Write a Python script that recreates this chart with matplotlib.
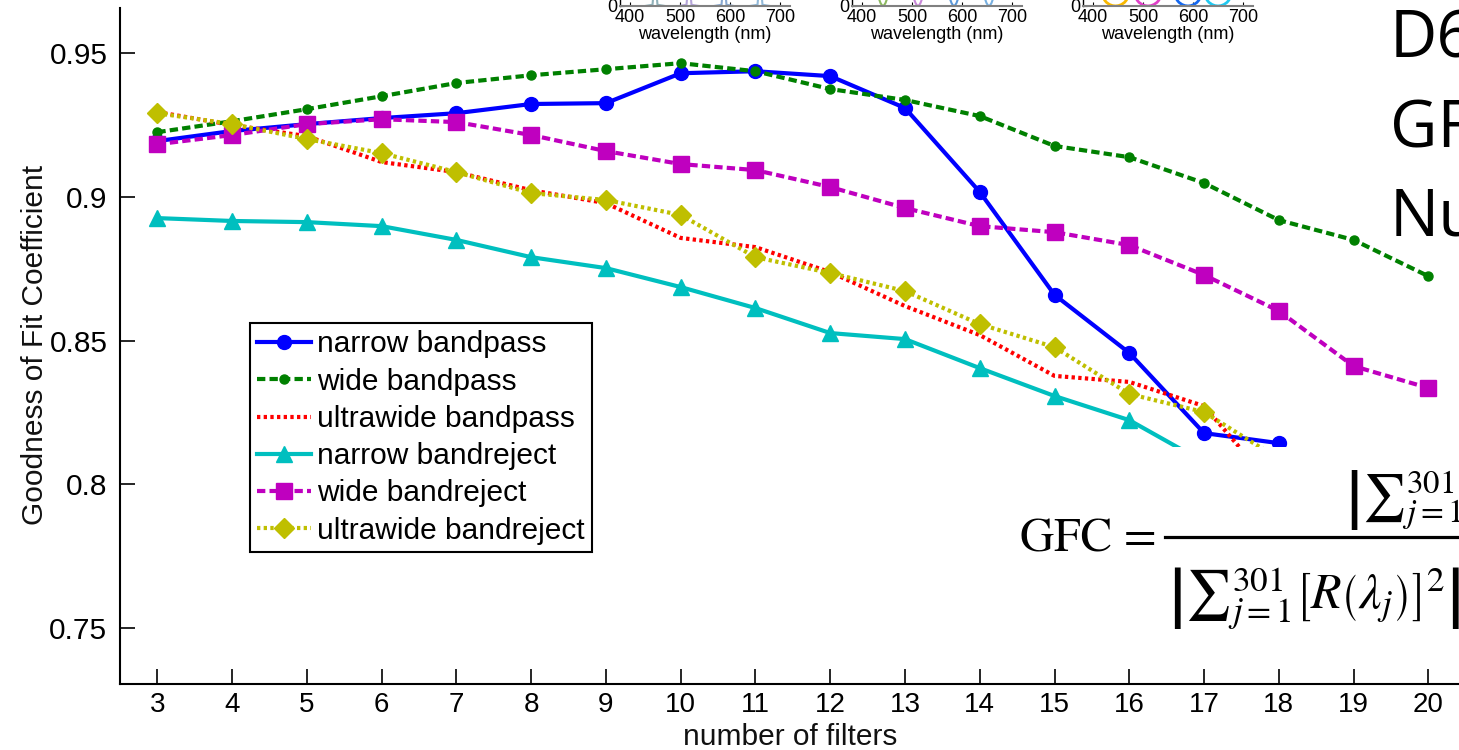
import matplotlib
matplotlib.use('Agg')
import matplotlib.pyplot as plt
from matplotlib.lines import Line2D
from matplotlib.patches import Rectangle

plt.rcParams['font.family'] = ['Liberation Sans', 'DejaVu Sans']
plt.rcParams['mathtext.fontset'] = 'stix'

W, H = 1459, 750

# ---------------- data ----------------
n_filters = [3, 4, 5, 6, 7, 8, 9, 10, 11, 12, 13, 14, 15, 16, 17, 18, 19, 20]

narrow_bandpass = [0.9194, 0.9229, 0.9253, 0.9274, 0.9291, 0.9323, 0.9326, 0.9430,
                   0.9437, 0.9420, 0.9309, 0.9017, 0.8659, 0.8457, 0.8178, 0.8143]
wide_bandpass = [0.9225, 0.9263, 0.9305, 0.9350, 0.9396, 0.9423, 0.9444, 0.9465,
                 0.9437, 0.9375, 0.9337, 0.9281, 0.9177, 0.9138, 0.9048, 0.8919,
                 0.8850, 0.8724]
ultrawide_bandpass = [0.9295, 0.9250, 0.9211, 0.9121, 0.9086, 0.9023, 0.8978, 0.8857,
                      0.8825, 0.8738, 0.8620, 0.8519, 0.8377, 0.8356, 0.8272, 0.7970]
narrow_bandreject = [0.8926, 0.8916, 0.8912, 0.8898, 0.8850, 0.8790, 0.8752, 0.8686,
                     0.8613, 0.8526, 0.8505, 0.8404, 0.8307, 0.8223, 0.8077]
wide_bandreject = [0.9183, 0.9215, 0.9253, 0.9270, 0.9260, 0.9215, 0.9159, 0.9114,
                   0.9093, 0.9034, 0.8961, 0.8898, 0.8877, 0.8832, 0.8728, 0.8603,
                   0.8411, 0.8335]
ultrawide_bandreject = [0.9291, 0.9253, 0.9201, 0.9152, 0.9086, 0.9013, 0.8989, 0.8937,
                        0.8790, 0.8735, 0.8672, 0.8557, 0.8477, 0.8314, 0.8251, 0.8088]

series_labels = ['narrow bandpass', 'wide bandpass', 'ultrawide bandpass',
                 'narrow bandreject', 'wide bandreject', 'ultrawide bandreject']

y_ticks = [0.75, 0.8, 0.85, 0.9, 0.95]
y_tick_labels = ['0.75', '0.8', '0.85', '0.9', '0.95']

# inset (filter shape thumbnails) data
wl_ticks = [400, 500, 600, 700]
inset1_centers = [450, 518, 588, 660]
inset1_colors = ['#8fb0b8', '#b4a4d8', '#88a8d0', '#90b8d8']
inset2_centers = [442, 512, 584, 654]
inset2_colors = ['#8cb860', '#c888d8', '#5c98d8', '#78b0e0']
inset3_centers = [445, 510, 590, 650]
inset3_colors = ['#f8b800', '#e040c8', '#1468f0', '#20c8f0']
peak_dx = [-20, -5, -2, 0, 2, 5, 20]
peak_y = [0, 0.02, 0.3, 1, 0.3, 0.02, 0]
dip_dx = [-12, -8, -5, -2, 0, 2, 5, 8, 12]
dip_y = [1, 0.12, 0.05, 0.01, 0, 0.01, 0.05, 0.12, 1]
wide_dip_dx = [-40, -22, -18, -12, -6, 0, 6, 12, 18, 22, 40]
wide_dip_y = [1, 0.1, 0.06, 0.025, 0.006, 0, 0.006, 0.025, 0.06, 0.1, 1]


def fx(x):
    return x / W


def fy(y):
    return 1 - y / H


fig = plt.figure(figsize=(W / 100, H / 100), dpi=100)
fig.patch.set_facecolor('white')

# ---------------- main axes ----------------
ax = fig.add_axes([fx(120), fy(684), (1465.7 - 120) / W, (684 - 8) / H])
ax.set_xlim(2.5, 20.5)
ax.set_ylim(0.7305, 0.9657)

styles = [
    dict(color=(0, 0, 1), ls='-', marker='o', ms=10),
    dict(color=(0, 0.5, 0), ls=(0, (2, 1)), marker='.', ms=13),
    dict(color=(1, 0, 0), ls=(0, (0.8, 0.8)), marker=None, ms=0),
    dict(color=(0, 0.75, 0.75), ls='-', marker='^', ms=12),
    dict(color=(0.75, 0, 0.75), ls=(0, (2, 1)), marker='s', ms=12),
    dict(color=(0.75, 0.75, 0), ls=(0, (0.8, 0.8)), marker='D', ms=10),
]
all_series = [narrow_bandpass, wide_bandpass, ultrawide_bandpass,
              narrow_bandreject, wide_bandreject, ultrawide_bandreject]
handles = []
for vals, st, lab in zip(all_series, styles, series_labels):
    h, = ax.plot(n_filters[:len(vals)], vals, color=st['color'], linestyle=st['ls'],
                 lw=3, marker=st['marker'], markersize=st['ms'],
                 markeredgecolor=st['color'], markerfacecolor=st['color'],
                 label=lab, clip_on=True)
    handles.append(h)

for s in ['top', 'right']:
    ax.spines[s].set_visible(False)
for s in ['left', 'bottom']:
    ax.spines[s].set_linewidth(1.5)
    ax.spines[s].set_color('black')

ax.set_xticks(n_filters)
ax.set_xticklabels([str(n) for n in n_filters])
ax.set_yticks(y_ticks)
ax.set_yticklabels(y_tick_labels)
ax.tick_params(axis='both', direction='in', length=11, width=1.2, colors='black')
ax.tick_params(axis='x', pad=6, labelsize=20)
ax.tick_params(axis='y', pad=9, labelsize=21.5)
ax.set_facecolor('none')

fig.text(fx(35), fy(345), 'Goodness of Fit Coefficient', rotation=90,
         ha='center', va='center', fontsize=21.5, color='#111111')
fig.text(fx(790), fy(737), 'number of filters', ha='center', va='center',
         fontsize=21.5, color='#111111')

leg = ax.legend(handles=handles, loc='upper left',
                bbox_to_anchor=(fx(250), fy(323)), bbox_transform=fig.transFigure,
                fontsize=21.5, numpoints=1, handlelength=1.8, handletextpad=0.2,
                labelspacing=0.31, borderpad=0.25, borderaxespad=0,
                fancybox=False, framealpha=1, edgecolor='black')
leg.get_frame().set_linewidth(1.5)

# ---------------- inset thumbnails ----------------
def make_inset(x_left, centers, colors, dx, dy, lw):
    ia = fig.add_axes([fx(x_left), fy(6), 170 / W, 60 / H])
    ia.set_xlim(380, 720)
    ia.set_ylim(0, 1)
    for c, col in zip(centers, colors):
        ia.plot([c + d for d in dx], dy, color=col, lw=lw, clip_on=True)
    for s in ['top', 'right']:
        ia.spines[s].set_visible(False)
    ia.spines['bottom'].set_color('#808080')
    ia.spines['bottom'].set_linewidth(1.5)
    ia.spines['left'].set_linewidth(1)
    ia.set_xticks(wl_ticks)
    ia.set_yticks([0])
    ia.set_yticklabels(['0'])
    ia.tick_params(direction='in', length=3, labelsize=13, pad=2)
    ia.set_xlabel('wavelength (nm)', fontsize=13, labelpad=0)
    ia.set_facecolor('none')
    return ia

make_inset(620, inset1_centers, inset1_colors, peak_dx, peak_y, 1.5)
make_inset(852, inset2_centers, inset2_colors, dip_dx, dip_y, 1.5)
make_inset(1083, inset3_centers, inset3_colors, wide_dip_dx, wide_dip_y, 2)

# ---------------- slide text on the right ----------------
for txt, base in [('D6', 57), ('GF', 147), ('Nu', 235)]:
    fig.text(fx(1390), fy(base), txt, ha='left', va='baseline', fontsize=47,
             family=['Open Sans', 'DejaVu Sans'], color='black', zorder=10)

# ---------------- formula box ----------------
fig.patches.append(Rectangle((fx(1000), fy(662)), (W - 1000) / W, (662 - 447) / H,
                             transform=fig.transFigure, facecolor='white',
                             edgecolor='none', zorder=5))
fig.text(fx(1020), fy(540), 'GFC =', ha='left', va='center', fontsize=34,
         family='STIXGeneral', color='black', zorder=6)
fig.lines.append(Line2D([fx(1165), fx(1460)], [fy(537), fy(537)],
                        transform=fig.transFigure, color='black', lw=2.3, zorder=6))
fig.text(fx(1345), fy(500), r'$\left|{\sum}_{j=1}^{301}\right.$', ha='left',
         va='center', fontsize=34, color='black', zorder=6)
fig.text(fx(1168), fy(598),
         r'$\left|{\sum}_{j=1}^{301}\left[R\left(\lambda_j\right)\right]^2\right|$',
         ha='left', va='center', fontsize=36, color='black', zorder=6)

fig.savefig('out.png', dpi=100, facecolor='white')
